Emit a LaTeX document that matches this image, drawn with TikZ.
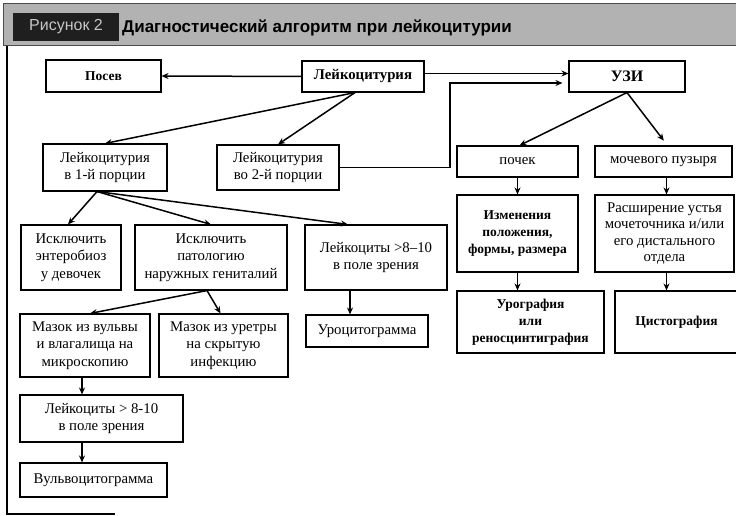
\documentclass[tikz,border=0pt]{standalone}
\usepackage{fontspec}
\setmainfont{Liberation Serif}
\setsansfont{Liberation Sans}
\usetikzlibrary{arrows.meta}

\tikzset{
	blok/.style={draw, line width=1.1pt, align=center, inner sep=1pt,
		font=\fontsize{14.8}{17.5}\selectfont},
	zhirn/.style={font=\bfseries\fontsize{13.5}{17}\selectfont},
	arr/.style={-{Stealth[length=7pt,width=6pt]}, line width=1.5pt},
}

\begin{document}
\begin{tikzpicture}[x=1pt,y=-1pt]
		\useasboundingbox (0,0) rectangle (736,516);
		% header band
		\filldraw[fill=gray!60, draw=black!70, line width=1pt] (3,4) rectangle (737,46);
		\node[fill=black!88, text=gray!45, minimum width=106pt, minimum height=28pt,
			font=\sffamily\fontsize{16}{18}\selectfont] (fig) at (66,27) {Рисунок 2};
		\node[anchor=west, inner sep=0pt, font=\sffamily\bfseries\fontsize{17}{19}\selectfont] (title) at (122,28)
			{Диагностический алгоритм при лейкоцитурии};
		% frame
		\draw[line width=1.2pt] (7,46) -- (7,514) -- (115,514);
		% boxes, top row
		\node[blok, zhirn, minimum width=115pt, minimum height=32pt] (posev) at (103.5,76) {Посев};
		\node[blok, minimum width=122pt, minimum height=31pt, font=\bfseries\fontsize{14.8}{17}\selectfont] (leuk) at (363,76.5) {Лейкоцитурия};
		\node[blok, minimum width=116pt, minimum height=31pt, font=\bfseries\fontsize{16}{17}\selectfont] (uzi) at (627,76.5) {УЗИ};
		% second row
		\node[blok, minimum width=124pt, minimum height=47pt] (leuk1) at (105,167.5) {Лейкоцитурия\\в 1-й порции};
		\node[blok, minimum width=122pt, minimum height=45pt] (leuk2) at (278,167.5) {Лейкоцитурия\\во 2-й порции};
		\node[blok, minimum width=121pt, minimum height=31pt] (pochek) at (517.5,161.5) {почек};
		\node[blok, minimum width=137pt, minimum height=31pt] (puzyr) at (663.5,161.5) {мочевого пузыря};
		% third row
		\node[blok, minimum width=100pt, minimum height=65pt] (enter) at (71,257.5) {Исключить\\энтеробиоз\\у девочек};
		\node[blok, minimum width=152pt, minimum height=65pt] (genit) at (211,257.5) {Исключить\\патологию\\наружных гениталий};
		\node[blok, minimum width=142pt, minimum height=65pt] (leukpz) at (376,257.5) {Лейкоциты >8--10\\в поле зрения};
		\node[blok, zhirn, minimum width=121pt, minimum height=77pt] (izmen) at (517.5,233.5) {Изменения\\положения,\\формы, размера};
		\node[blok, minimum width=139pt, minimum height=77pt, font=\fontsize{14.8}{16.5}\selectfont] (rassh) at (664.5,233.5) {Расширение устья\\мочеточника и/или\\его дистального\\отдела};
		% fourth row
		\node[blok, minimum width=130pt, minimum height=63pt] (mazokv) at (85,345.5) {Мазок из вульвы\\и влагалища на\\микроскопию};
		\node[blok, minimum width=129pt, minimum height=63pt] (mazoku) at (223.5,345.5) {Мазок из уретры\\на скрытую\\инфекцию};
		\node[blok, minimum width=122pt, minimum height=32pt] (urocit) at (367,331) {Уроцитограмма};
		\node[blok, zhirn, minimum width=147pt, minimum height=62pt] (urogr) at (530.5,322) {Урография\\или\\реносцинтиграфия};
		\node[blok, zhirn, minimum width=123pt, minimum height=62pt] (cisto) at (676.5,322) {Цистография};
		% bottom left
		\node[blok, minimum width=163pt, minimum height=47pt] (leukpz2) at (101.5,418.5) {Лейкоциты > 8-10\\в поле зрения};
		\node[blok, minimum width=147pt, minimum height=34pt] (vulvo) at (93.5,480) {Вульвоцитограмма};
		% connectors
		\coordinate (bend) at (450,83);
		\draw[arr] (leuk.west) -- (posev.east);
		\draw[arr] ([yshift=3pt]leuk.east) -- ([yshift=3pt]uzi.west);
		\draw[arr] (leuk2.east) -| (bend) -- ([xshift=-6pt,yshift=-6.5pt]uzi.west);
		\draw[arr] ([xshift=-8pt]leuk.south) -- (leuk1.north);
		\draw[arr] ([xshift=-8pt]leuk.south) -- (leuk2.north);
		\draw[arr] (uzi.south) -- ([xshift=2pt]pochek.north);
		\draw[arr, shorten >=6pt] (uzi.south) -- ([xshift=4pt]puzyr.north);
		\draw[arr] (pochek.south) -- (izmen.north);
		\draw[arr] (izmen.south) -- (izmen.south |- urogr.north);
		\draw[arr] ([xshift=3pt]puzyr.south) -- ([xshift=2pt]rassh.north);
		\draw[arr] ([xshift=2pt]rassh.south) -- ([xshift=2pt]rassh.south |- cisto.north);
		\draw[arr] ([xshift=-8pt]leuk1.south) -- ([xshift=-3pt]enter.north);
		\draw[arr] ([xshift=-8pt]leuk1.south) -- (genit.north);
		\draw[arr] ([xshift=-8pt]leuk1.south) -- ([xshift=-28pt]leukpz.north);
		\draw[arr] ([xshift=-4pt]genit.south) -- ([xshift=5pt]mazokv.north);
		\draw[arr] ([xshift=-4pt]genit.south) -- ([xshift=-3pt]mazoku.north);
		\draw[arr] ([xshift=-26pt]leukpz.south) -- ([xshift=-26pt]leukpz.south |- urocit.north);
		\draw[arr] ([xshift=-3pt]mazokv.south) -- ([xshift=-3pt]mazokv.south |- leukpz2.north);
		\draw[arr] ([xshift=-3pt]mazokv.south |- leukpz2.south) -- ([xshift=-3pt]mazokv.south |- vulvo.north);
\end{tikzpicture}
\end{document}
